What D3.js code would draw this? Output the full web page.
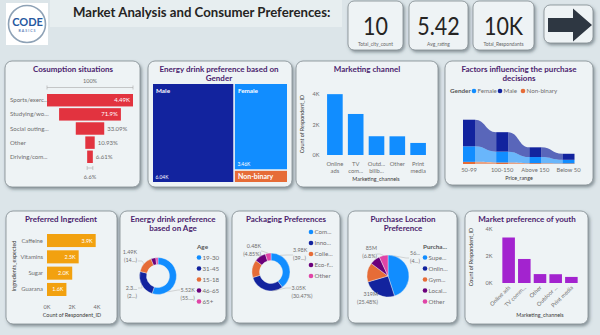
<!DOCTYPE html>
<html>
<head>
<meta charset="utf-8">
<script src="https://cdn.jsdelivr.net/npm/d3@7"></script>
<style>
  body { margin: 0; background: #dfe7ea; }
  svg { display: block; font-family: Lato, "Open Sans", sans-serif; }
  .ptitle { font-weight: 700; font-size: 8px; fill: #4b1d6e; }
  .lbl { font-size: 6px; fill: #6e6e6e; }
  .axt { font-size: 5.4px; fill: #3a3a3a; }
  .leg { font-size: 6.2px; fill: #6e6e6e; }
  .legt { font-size: 6.3px; font-weight: 700; fill: #555; }
</style>
</head>
<body>
<svg id="dash" width="600" height="335"></svg>
<script>
// ---------- data ----------
const kpiValues = ["10", "5.42", "10K"];
const kpiLabels = ["Total_city_count", "Avg_rating", "Total_Respondants"];

const situationNames = ["Sports/exerc...", "Studying/wo...", "Social outing...", "Other", "Driving/com..."];
const situationCounts = [4494, 3231, 1487, 491, 297];

const genderNames = ["Male", "Female", "Non-binary"];
const genderCounts = [6038, 3455, 507];

const channelLabels = [["Online", "ads"], ["TV", "com..."], ["Outd...", "billb..."], ["Other"], ["Print", "media"]];
const channelCounts = [3990, 2690, 1230, 1225, 790];

const priceRanges = ["50-99", "100-150", "Above 150", "Below 50"];
const priceNonBinary = [210, 150, 80, 60];
const priceFemale = [1520, 1060, 600, 350];
const priceMale = [2600, 1900, 950, 590];

const ingredientNames = ["Caffeine", "Vitamins", "Sugar", "Guarana"];
const ingredientCounts = [3896, 2534, 2017, 1553];

const ageGroups = ["19-30", "31-45", "15-18", "46-65", "65+"];
const ageCounts = [5520, 2376, 1488, 426, 190];

const packagingLegend = ["Com...", "Inno...", "Colle...", "Eco-f...", "Other"];
const packagingCounts = [3984, 3047, 1501, 983, 485];

const locationLegend = ["Supe...", "Onlin...", "Gym...", "Local...", "Other"];
const locationSumsM = [563, 319, 185, 100, 85];

const youthChannels = ["Online ads", "TV comm...", "Other", "Outdoor ...", "Print media"];
const youthCounts = [3370, 1780, 660, 650, 450];

const palette = ["#118dff", "#12239e", "#e66c37", "#6b007b", "#e044a7"];

// ---------- helpers ----------
const svg = d3.select("#dash");
const defs = svg.append("defs");
const flt = defs.append("filter").attr("id", "shadow")
  .attr("x", "-10%").attr("y", "-10%").attr("width", "130%").attr("height", "130%");
flt.append("feDropShadow").attr("dx", 1.5).attr("dy", 2).attr("stdDeviation", 1.4)
  .attr("flood-color", "#36454d").attr("flood-opacity", 0.5);

const kFmt = v => (v / 1000).toFixed(2) + "K";
const trimPct = p => (+p.toFixed(2)) + "%";

function panel(x, y, w, h, rx = 7) {
  svg.append("rect").attr("x", x).attr("y", y).attr("width", w).attr("height", h).attr("rx", rx)
    .attr("fill", "#eef3f5").attr("stroke", "#7f898e").attr("stroke-width", 0.8)
    .attr("filter", "url(#shadow)");
}
function title(lines, cx, y0) {
  lines.forEach((t, i) => svg.append("text").attr("class", "ptitle")
    .attr("x", cx).attr("y", y0 + i * 8.6).attr("text-anchor", "middle").text(t));
}
function twoLine(g, x, y, a, b, anchor) {
  const t = g.append("text").attr("class", "lbl").attr("text-anchor", anchor).style("font-size", "5.4px");
  t.append("tspan").attr("x", x).attr("y", y).text(a);
  t.append("tspan").attr("x", x).attr("y", y + 8).text(b);
}

// ---------- background & header ----------
svg.append("rect").attr("width", 600).attr("height", 335).attr("fill", "#dce5e9");
svg.append("rect").attr("x", 50).attr("y", 0).attr("width", 292).attr("height", 27).attr("fill", "#e7eef0");

// logo
svg.append("rect").attr("x", 6).attr("y", 3).attr("width", 42).attr("height", 42).attr("fill", "#ffffff");
svg.append("circle").attr("cx", 27).attr("cy", 24).attr("r", 18.5)
  .attr("fill", "#ffffff").attr("stroke", "#8ea2b6").attr("stroke-width", 1.6);
svg.append("text").attr("x", 27.5).attr("y", 25.5).attr("text-anchor", "middle")
  .style("font-size", "11px").style("font-weight", 700).attr("fill", "#27589f").text("CODE");
svg.append("text").attr("x", 27.5).attr("y", 31.5).attr("text-anchor", "middle")
  .style("font-size", "3.6px").style("letter-spacing", "1px").attr("fill", "#27589f").text("BASICS");

svg.append("text").attr("x", 73).attr("y", 16.5)
  .style("font-size", "13.2px").style("font-weight", 700).attr("fill", "#252423")
  .text("Market Analysis and Consumer Preferences:");

// KPI cards
const kpiBoxes = [[348, 1, 55, 49], [409, 1, 59, 49], [473, 1, 61, 49]];
kpiBoxes.forEach((b, i) => {
  panel(b[0], b[1], b[2], b[3], 6);
  const cx = b[0] + b[2] / 2;
  svg.append("text").attr("text-anchor", "middle")
    .attr("transform", `translate(${cx},34.5) scale(0.86,1)`)
    .style("font-size", "25px").attr("fill", "#252423").text(kpiValues[i]);
  svg.append("text").attr("x", cx).attr("y", 45.5).attr("text-anchor", "middle")
    .style("font-size", "4.9px").attr("fill", "#666").text(kpiLabels[i]);
});
// navigation arrow button
panel(544, 5, 49, 38, 6);
svg.append("path").attr("d", "M548,18 H573 V8.5 L592,25 L573,41.5 V32 H548 Z").attr("fill", "#2e3742");

// ---------- Consumption situations (funnel) ----------
panel(5, 61, 135, 126);
title(["Cosumption situations"], 73, 72);
{
  const cx = 90;
  const fx = d3.scaleLinear().domain([0, d3.max(situationCounts)]).range([0, 86]);
  const fy = d3.scaleBand().domain(situationNames).range([94, 163]).paddingInner(0.12);
  const first = situationCounts[0];
  const g = svg.append("g");
  // top bracket
  g.append("text").attr("class", "lbl").attr("x", cx).attr("y", 83).attr("text-anchor", "middle")
    .style("font-size", "5.6px").text("100%");
  g.append("path").attr("d", `M${cx - fx(first) / 2},85.5 V89.5 M${cx - fx(first) / 2},87.5 H${cx + fx(first) / 2} M${cx + fx(first) / 2},85.5 V89.5`)
    .attr("stroke", "#a8a8a8").attr("stroke-width", 0.6).attr("fill", "none");
  situationNames.forEach((n, i) => {
    const v = situationCounts[i], w = fx(v), y = fy(n), h = fy.bandwidth();
    g.append("rect").attr("x", cx - w / 2).attr("y", y).attr("width", w).attr("height", h).attr("fill", "#e2333f");
    g.append("text").attr("class", "lbl").attr("x", 10).attr("y", y + h / 2 + 2).style("font-size", "6.1px").text(n);
    const lab = i === 0 ? kFmt(v) : trimPct(v / first * 100);
    const inside = w > 40;
    g.append("text").attr("class", "lbl")
      .attr("x", inside ? cx + w / 2 - 3 : cx + w / 2 + 3).attr("y", y + h / 2 + 2)
      .attr("text-anchor", inside ? "end" : "start").style("font-size", "6px")
      .style("fill", inside ? "#ffffff" : null).text(lab);
  });
  const last = situationCounts[situationCounts.length - 1];
  const lw = fx(last);
  g.append("path").attr("d", `M${cx - lw / 2},166 V170 M${cx - lw / 2},168 H${cx + lw / 2} M${cx + lw / 2},166 V170`)
    .attr("stroke", "#a8a8a8").attr("stroke-width", 0.6).attr("fill", "none");
  g.append("text").attr("class", "lbl").attr("x", cx).attr("y", 178.5).attr("text-anchor", "middle")
    .style("font-size", "5.6px").text((last / first * 100).toFixed(1) + "%");
}

// ---------- Gender treemap ----------
panel(148, 61, 144, 126);
title(["Energy drink preference based on", "Gender"], 219, 72);
{
  const root = d3.hierarchy({ children: genderNames.map((n, i) => ({ name: n, value: genderCounts[i] })) })
    .sum(d => d.value || 0).sort((a, b) => b.value - a.value);
  d3.treemap().size([134, 98]).paddingInner(1.6).tile(d3.treemapSquarify)(root);
  const colors = { "Male": "#12239e", "Female": "#118dff", "Non-binary": "#e66c37" };
  const g = svg.append("g").attr("transform", "translate(153,84)");
  root.leaves().forEach(l => {
    g.append("rect").attr("x", l.x0).attr("y", l.y0).attr("width", l.x1 - l.x0).attr("height", l.y1 - l.y0)
      .attr("fill", colors[l.data.name]);
    const tall = l.y1 - l.y0 > 20;
    g.append("text").attr("x", l.x0 + 3).attr("y", tall ? l.y0 + 9 : (l.y0 + l.y1) / 2 + 2.6)
      .style("font-size", tall ? "6.3px" : "7px").style("font-weight", 700).attr("fill", "#fff").text(l.data.name);
    if (tall) g.append("text").attr("x", l.x0 + 2.5).attr("y", l.y1 - 3)
      .style("font-size", "4.9px").attr("fill", "#fff").text(kFmt(l.value));
  });
}

// ---------- Marketing channel ----------
panel(296, 61, 142, 126);
title(["Marketing channel"], 367, 72);
{
  const x = d3.scaleBand().domain(d3.range(channelCounts.length)).range([325, 428]).paddingInner(0.25).paddingOuter(0.1);
  const y = d3.scaleLinear().domain([0, 4000]).range([155, 94]);
  const g = svg.append("g");
  [0, 2000, 4000].forEach(t => g.append("text").attr("class", "lbl").attr("x", 316).attr("y", y(t) + 2)
    .attr("text-anchor", "middle").style("font-size", "5.6px").text(t / 1000 + "K"));
  g.selectAll("rect.b").data(channelCounts).join("rect")
    .attr("x", (d, i) => x(i)).attr("y", d => y(d)).attr("width", x.bandwidth()).attr("height", d => y(0) - y(d))
    .attr("fill", "#118dff");
  channelLabels.forEach((ls, i) => ls.forEach((t, j) => g.append("text").attr("class", "lbl")
    .attr("x", x(i) + x.bandwidth() / 2).attr("y", 165.5 + j * 7.6).attr("text-anchor", "middle")
    .style("font-size", "5.8px").text(t)));
  g.append("text").attr("class", "axt").attr("x", 376).attr("y", 180.5).attr("text-anchor", "middle").text("Marketing_channels");
  g.append("text").attr("class", "axt").attr("transform", "translate(304,124) rotate(-90)").attr("text-anchor", "middle")
    .text("Count of Respondent_ID");
}

// ---------- Factors influencing purchase (ribbon) ----------
panel(445, 61, 148, 124);
title(["Factors influencing the purchase", "decisions"], 519, 72);
{
  const g = svg.append("g");
  g.append("text").attr("class", "legt").attr("x", 450).attr("y", 93).text("Gender");
  const legItems = [["Female", "#118dff", 474], ["Male", "#12239e", 500], ["Non-binary", "#e66c37", 523]];
  legItems.forEach(([n, c, lx]) => {
    g.append("circle").attr("cx", lx).attr("cy", 91).attr("r", 2.3).attr("fill", c);
    g.append("text").attr("class", "leg").attr("x", lx + 3.5).attr("y", 93.2).text(n);
  });
  const rows = priceRanges.map((p, i) => ({ p, nb: priceNonBinary[i], f: priceFemale[i], m: priceMale[i] }));
  const stack = d3.stack().keys(["nb", "f", "m"])(rows);
  const colors = { nb: "#e66c37", f: "#118dff", m: "#12239e" };
  const x = d3.scalePoint().domain(priceRanges).range([469, 568.5]);
  const y = d3.scaleLinear().domain([0, 4400]).range([164, 119]);
  const half = 6;
  const area = d3.area().x(d => d.x).y0(d => y(d.y0)).y1(d => y(d.y1)).curve(d3.curveBumpX);
  stack.forEach(s => {
    for (let i = 0; i < s.length - 1; i++) {
      const pts = [
        { x: x(priceRanges[i]) + half, y0: s[i][0], y1: s[i][1] },
        { x: x(priceRanges[i + 1]) - half, y0: s[i + 1][0], y1: s[i + 1][1] }
      ];
      g.append("path").attr("d", area(pts)).attr("fill", colors[s.key]).attr("fill-opacity", s.key === "m" ? 0.68 : 0.6);
    }
    s.forEach((d, i) => g.append("rect").attr("x", x(priceRanges[i]) - half).attr("y", y(d[1]))
      .attr("width", half * 2).attr("height", y(d[0]) - y(d[1])).attr("fill", colors[s.key]));
  });
  priceRanges.forEach(p => g.append("text").attr("class", "lbl").attr("x", x(p)).attr("y", 172)
    .attr("text-anchor", "middle").style("font-size", "5.8px").text(p));
  g.append("text").attr("class", "axt").attr("x", 519).attr("y", 180).attr("text-anchor", "middle").text("Price_range");
}

// ---------- Preferred Ingredient ----------
panel(6, 211, 111, 113);
title(["Preferred Ingredient"], 61, 222);
{
  const g = svg.append("g");
  const x = d3.scaleLinear().domain([0, 4000]).range([47, 97]);
  const y = d3.scaleBand().domain(ingredientNames).range([234, 296]).paddingInner(0.2);
  ingredientNames.forEach((n, i) => {
    const v = ingredientCounts[i];
    g.append("rect").attr("x", x(0)).attr("y", y(n)).attr("width", x(v) - x(0)).attr("height", y.bandwidth()).attr("fill", "#f2a10f");
    g.append("text").attr("class", "lbl").attr("x", 43).attr("y", y(n) + y.bandwidth() / 2 + 2)
      .attr("text-anchor", "end").style("font-size", "5.9px").text(n);
    g.append("text").attr("x", x(v) - 3).attr("y", y(n) + y.bandwidth() / 2 + 2)
      .attr("text-anchor", "end").style("font-size", "5.4px").attr("fill", "#fff").text((v / 1000).toFixed(1) + "K");
  });
  [0, 2000, 4000].forEach(t => g.append("text").attr("class", "lbl").attr("x", x(t)).attr("y", 309)
    .attr("text-anchor", "middle").style("font-size", "5.6px").text(t / 1000 + "K"));
  g.append("text").attr("class", "axt").attr("x", 72).attr("y", 317).attr("text-anchor", "middle").text("Count of Respondent_ID");
  g.append("text").attr("class", "axt").attr("transform", "translate(15.5,266) rotate(-90)").attr("text-anchor", "middle")
    .text("Ingredients_expected");
}

// ---------- donut / pie helper ----------
function ring(cx, cy, ro, ri, values, labels) {
  const g = svg.append("g").attr("transform", `translate(${cx},${cy})`);
  const arcs = d3.pie().sort(null)(values);
  const arc = d3.arc().outerRadius(ro).innerRadius(ri);
  g.selectAll("path").data(arcs).join("path").attr("d", arc)
    .attr("fill", (d, i) => palette[i]).attr("stroke", "#eef3f5").attr("stroke-width", 0.4);
  labels.forEach(L => {
    const a = arcs[L.i];
    const ang = L.at !== undefined ? a.startAngle + (a.endAngle - a.startAngle) * L.at : (a.startAngle + a.endAngle) / 2;
    const px = Math.sin(ang) * ro, py = -Math.cos(ang) * ro;
    g.append("polyline").attr("points", `${px},${py} ${L.ex},${L.ey} ${L.lx},${L.ey}`)
      .attr("fill", "none").attr("stroke", "#b0b0b0").attr("stroke-width", 0.5);
    twoLine(g, L.tx, L.ty, L.a, L.b, L.anchor);
  });
  return arcs;
}
function legend(x, y0, names, head) {
  let y = y0;
  if (head) {
    svg.append("text").attr("class", "legt").attr("x", x - 2).attr("y", y + 2).text(head);
    y += 10.5;
  }
  names.forEach((n, i) => {
    svg.append("circle").attr("cx", x).attr("cy", y + i * 11).attr("r", 2.3).attr("fill", palette[i]);
    svg.append("text").attr("class", "leg").attr("x", x + 3.5).attr("y", y + i * 11 + 2.2).text(n);
  });
}

// ---------- Age donut ----------
panel(120, 211, 106, 112);
title(["Energy drink preference", "based on Age"], 173, 222);
{
  const total = d3.sum(ageCounts);
  const pctTxt = i => "(" + (ageCounts[i] / total * 100).toFixed(2) + "%)";
  const cut = (s, n) => s.slice(0, n) + "...";
  ring(158, 276, 18.5, 11.5, ageCounts, [
    { i: 0, at: 0.75, ex: 20, ey: 14, lx: 22, tx: 22.5, ty: 16, anchor: "start", a: kFmt(ageCounts[0]), b: cut(pctTxt(0), 4) + ")" },
    { i: 1, ex: -16, ey: 12, lx: -20, tx: -21, ty: 14, anchor: "end", a: cut(kFmt(ageCounts[1]), 3), b: cut(pctTxt(1), 2) + ")" },
    { i: 2, ex: -16, ey: -15, lx: -20, tx: -21, ty: -22, anchor: "end", a: kFmt(ageCounts[2]), b: cut(pctTxt(2), 3) + ")" }
  ]);
  legend(199, 247, ageGroups, "Age");
}

// ---------- Packaging donut ----------
panel(232, 211, 108, 112);
title(["Packaging Preferences"], 286, 222);
{
  const total = d3.sum(packagingCounts);
  const pct = i => (packagingCounts[i] / total * 100).toFixed(2) + "%";
  const n = packagingCounts.length - 1;
  ring(271, 272, 19, 11.5, packagingCounts, [
    { i: n, ex: -9, ey: -21, lx: -10, tx: -10, ty: -24, anchor: "end", a: kFmt(packagingCounts[n]), b: "(" + pct(n) + ")" },
    { i: 0, at: 0.2, ex: 16, ey: -17, lx: 22, tx: 22, ty: -20, anchor: "start", a: kFmt(packagingCounts[0]), b: "(" + pct(0).slice(0, 2) + "...)" },
    { i: 1, at: 0.3, ex: 15, ey: 16, lx: 20, tx: 20.5, ty: 18, anchor: "start", a: kFmt(packagingCounts[1]), b: "(" + pct(1) + ")" }
  ]);
  legend(311, 232, packagingLegend, null);
}

// ---------- Purchase location pie ----------
panel(348, 211, 109, 112);
title(["Purchase Location", "Preference"], 403, 222);
{
  const total = d3.sum(locationSumsM);
  const pct = i => +(locationSumsM[i] / total * 100).toFixed(2) + "%";
  const n = locationSumsM.length - 1;
  ring(388, 276, 21, 0, locationSumsM, [
    { i: n, ex: -8, ey: -22, lx: -11, tx: -11, ty: -26, anchor: "end", a: locationSumsM[n] + "M", b: "(" + (+(locationSumsM[n] / total * 100).toFixed(1)) + "%)" },
    { i: 0, at: 0.1, ex: 18, ey: -18, lx: 21, tx: 22, ty: -21, anchor: "start", a: String(locationSumsM[0]).slice(0, 2) + "...", b: "(" + pct(0).slice(0, 1) + "...)" },
    { i: 1, ex: -14, ey: 19, lx: -16, tx: -10, ty: 20, anchor: "end", a: locationSumsM[1] + "M", b: "(" + pct(1) + ")" }
  ]);
  legend(425, 247, locationLegend, "Purcha...");
}

// ---------- Market preference of youth ----------
panel(465, 211, 123, 113);
title(["Market preference of youth"], 527, 222);
{
  const g = svg.append("g");
  const x = d3.scaleBand().domain(youthChannels).range([500, 580]).paddingInner(0.2).paddingOuter(0.15);
  const y = d3.scaleLinear().domain([0, 4000]).range([283, 229]);
  [0, 2000, 4000].forEach(t => g.append("text").attr("class", "lbl").attr("x", 489).attr("y", y(t) + 2)
    .attr("text-anchor", "middle").style("font-size", "5.6px").text(t / 1000 + "K"));
  g.selectAll("rect.y").data(youthCounts).join("rect")
    .attr("x", (d, i) => x(youthChannels[i])).attr("y", d => y(d)).attr("width", x.bandwidth())
    .attr("height", d => y(0) - y(d)).attr("fill", "#a323cf");
  youthChannels.forEach(c => g.append("text").attr("class", "lbl")
    .attr("transform", `translate(${x(c) + x.bandwidth() / 2 + 2},${288}) rotate(-45)`)
    .attr("text-anchor", "end").style("font-size", "5.6px").text(c));
  g.append("text").attr("class", "axt").attr("x", 540).attr("y", 316.5).attr("text-anchor", "middle").text("Marketing_channels");
  g.append("text").attr("class", "axt").attr("transform", "translate(473,257) rotate(-90)").attr("text-anchor", "middle")
    .text("Count of Respondent_ID");
}
</script>
</body>
</html>
